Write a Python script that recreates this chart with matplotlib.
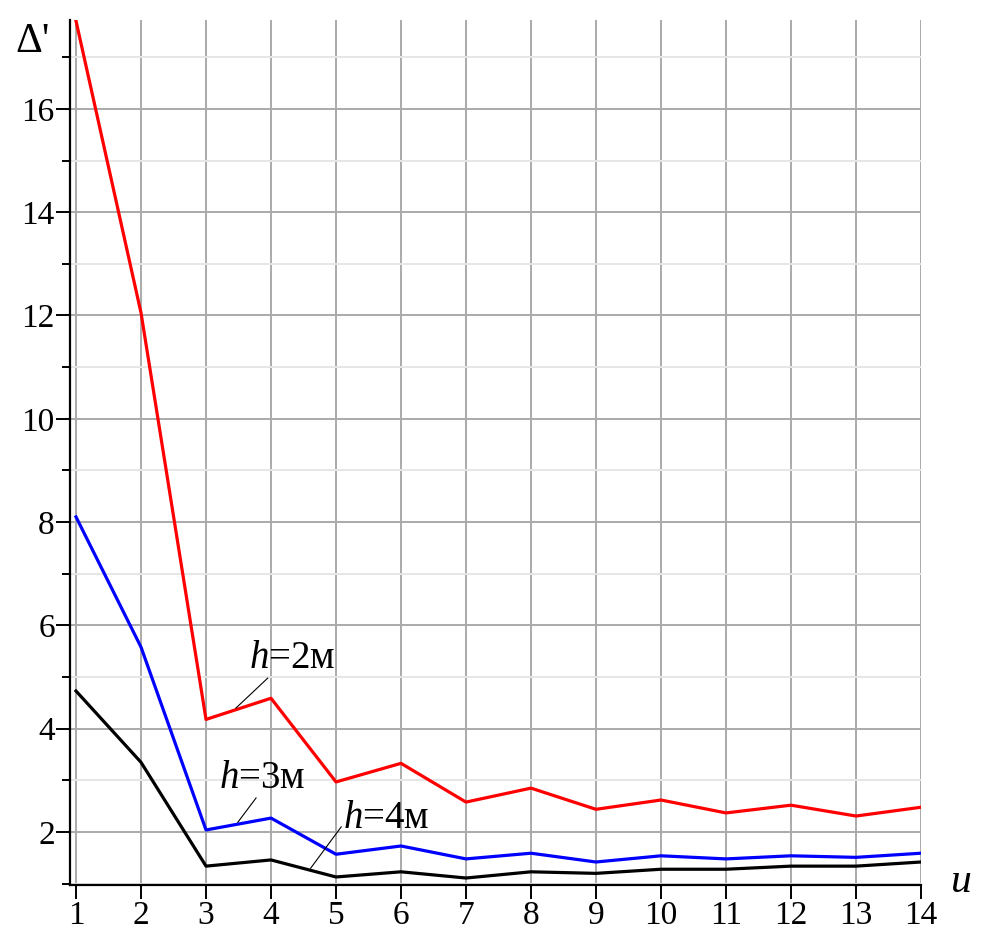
"""Delta' versus u for three heights h."""

import matplotlib
matplotlib.use("Agg")
import matplotlib.pyplot as plt
from matplotlib.ticker import MultipleLocator

plt.rcParams["font.family"] = ["Liberation Serif", "DejaVu Serif"]
plt.rcParams["mathtext.fontset"] = "custom"
plt.rcParams["mathtext.rm"] = "Liberation Serif"
plt.rcParams["mathtext.it"] = "Liberation Serif:italic"

u = [1, 2, 3, 4, 5, 6, 7, 8, 9, 10, 11, 12, 13, 14]
h2 = [17.7, 12.05, 4.18, 4.59, 2.97, 3.33, 2.58, 2.85, 2.44, 2.62, 2.37, 2.52, 2.31, 2.48]
h3 = [8.1, 5.58, 2.04, 2.27, 1.57, 1.73, 1.48, 1.59, 1.42, 1.54, 1.48, 1.54, 1.51, 1.59]
h4 = [4.73, 3.35, 1.34, 1.46, 1.13, 1.23, 1.11, 1.23, 1.2, 1.28, 1.28, 1.34, 1.34, 1.42]

# label text, text position, leader line start -> end
labels = [
    ("$h$=2м", (3.66, 5.18), (3.95, 4.98), (3.46, 4.40)),
    ("$h$=3м", (3.20, 2.85), (3.77, 2.66), (3.49, 2.19)),
    ("$h$=4м", (5.11, 2.08), (5.08, 2.10), (4.61, 1.30)),
]

fig = plt.figure(figsize=(9.81, 9.30), dpi=100)
ax = fig.add_axes([0.0714, 0.0484, 0.8674, 0.9301])

ax.plot(u, h2, color="#ff0000", lw=2.3)
ax.plot(u, h3, color="#0000ff", lw=2.3)
ax.plot(u, h4, color="#000000", lw=2.3)

ax.set_xlim(0.908, 14)
ax.set_ylim(0.975, 17.72)
ax.set_xticks(u)
ax.yaxis.set_major_locator(MultipleLocator(2))
ax.yaxis.set_minor_locator(MultipleLocator(1))

ax.grid(which="major", color="#aaaaaa", lw=1.4)
ax.grid(which="minor", axis="y", color="#e6e6e6", lw=1.4)
ax.set_axisbelow(True)

for side in ("top", "right"):
    ax.spines[side].set_visible(False)
for side in ("left", "bottom"):
    ax.spines[side].set_linewidth(1.6)

ax.tick_params(which="major", length=10, width=1.4, labelsize=24, pad=1)
ax.tick_params(which="minor", length=6, width=1.4)
ax.tick_params(axis="x", which="minor", length=0)

for text, pos, p0, p1 in labels:
    ax.text(pos[0], pos[1], text, fontsize=28, ha="left", va="baseline")
    ax.plot([p0[0], p1[0]], [p0[1], p1[1]], color="black", lw=0.8)

fig.text(15 / 981, 1 - 52 / 930, "Δ'", fontsize=30, ha="left", va="baseline")
fig.text(950 / 981, 1 - 892 / 930, "$u$", fontsize=30, ha="left", va="baseline")

fig.savefig("out.png", dpi=100)
